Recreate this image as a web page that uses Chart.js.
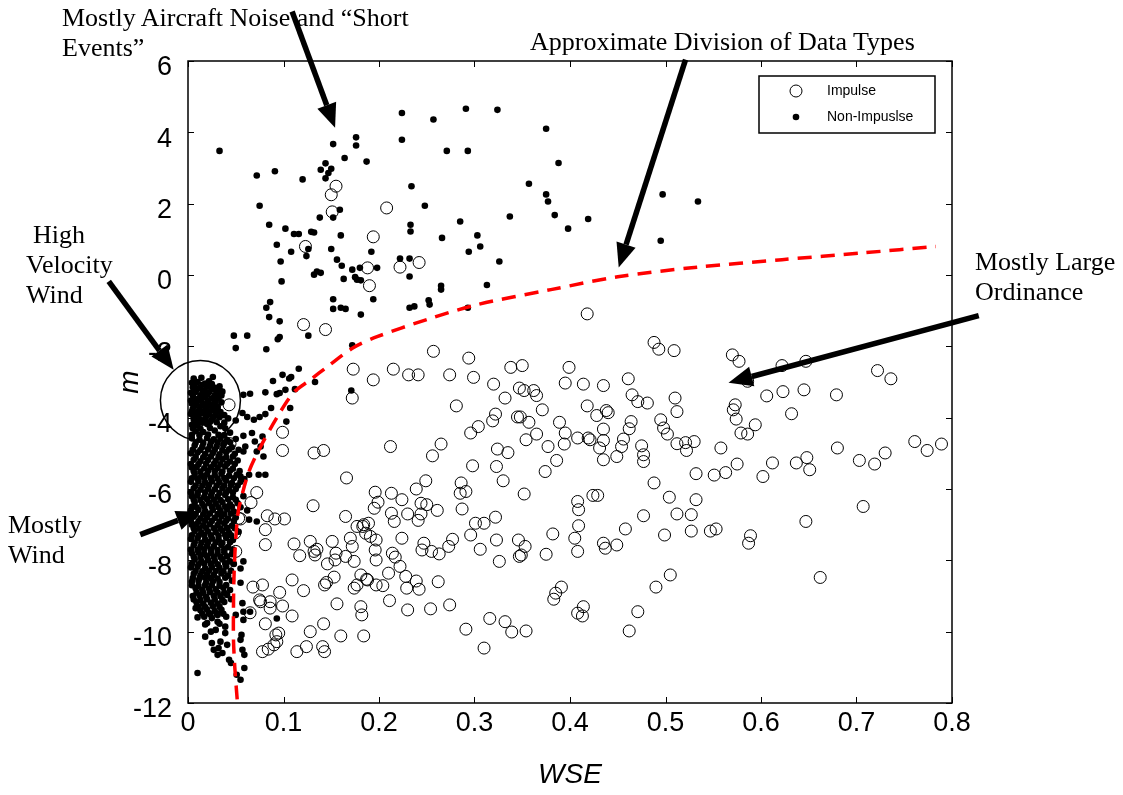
<!DOCTYPE html>
<html>
<head>
<meta charset="utf-8">
<title>WSE vs m</title>
<script src="https://cdn.jsdelivr.net/npm/chart.js@4.4.1/dist/chart.umd.min.js"></script>
<style>
  html, body { margin: 0; padding: 0; background: #fff; }
  #wrap { position: relative; width: 1123px; height: 795px; }
  #chart { position: absolute; left: 0; top: 0; }
  .note { position: absolute; font-family: "Liberation Serif", "Times New Roman", serif; font-size: 26px; line-height: 30px; color: #000; white-space: nowrap; }
</style>
</head>
<body>
<div id="wrap">
  <canvas id="chart" width="1123" height="795"></canvas>
  <div class="note" style="left:62px; top:3px;">Mostly Aircraft Noise and “Short<br>Events”</div>
  <div class="note" style="left:530px; top:27px;">Approximate Division of Data Types</div>
  <div class="note" style="left:33px; top:220px;">High</div>
  <div class="note" style="left:26px; top:250px;">Velocity</div>
  <div class="note" style="left:26px; top:280px;">Wind</div>
  <div class="note" style="left:975px; top:247px;">Mostly Large<br>Ordinance</div>
  <div class="note" style="left:8px; top:510px;">Mostly<br>Wind</div>
</div>
<script>
// axis ticks
const xTicks = [0, 0.1, 0.2, 0.3, 0.4, 0.5, 0.6, 0.7, 0.8];
const yTicks = [-12, -10, -8, -6, -4, -2, 0, 2, 4, 6];

// legend labels (as printed in the original)
const seriesNames = ["Impulse", "Non-Impuslse"];

// impulse events, [WSE, m]
const impulse = [
  [0.155,2.49],[0.150,2.25],[0.151,1.77],[0.208,1.88],[0.194,1.07],[0.123,0.80],[0.188,0.20],[0.222,0.22],[0.242,0.35],[0.190,-0.30],
  [0.418,-1.09],[0.121,-1.39],[0.144,-1.53],[0.173,-2.64],[0.172,-3.45],[0.043,-3.64],[0.044,-4.73],[0.099,-4.41],[0.099,-4.92],[0.132,-4.99],
  [0.142,-4.92],[0.166,-5.69],[0.072,-6.10],[0.053,-6.82],[0.049,-7.24],[0.037,-7.47],[0.050,-7.75],[0.039,-8.17],
  [0.066,-6.38],[0.083,-6.75],[0.091,-6.84],[0.101,-6.84],[0.081,-7.14],[0.081,-7.56],[0.055,-6.84],[0.131,-6.47],[0.165,-6.77],[0.195,-6.54],
  [0.111,-7.54],[0.117,-7.87],[0.128,-7.47],[0.132,-7.75],[0.135,-7.69],[0.133,-7.85],[0.151,-7.47],[0.155,-7.80],[0.154,-7.99],[0.165,-7.89],
  [0.170,-7.38],[0.172,-7.61],[0.174,-8.03],[0.177,-7.05],[0.183,-7.05],[0.189,-6.96],[0.186,-7.24],[0.191,-7.33],[0.196,-7.71],[0.146,-8.10],
  [0.109,-8.55],[0.096,-8.90],[0.121,-8.85],[0.068,-8.75],[0.078,-8.69],[0.076,-9.16],[0.086,-9.34],[0.099,-9.28],[0.109,-9.56],[0.081,-9.78],
  [0.092,-10.09],[0.093,-10.28],[0.078,-10.56],[0.084,-10.49],[0.114,-10.56],[0.124,-10.42],[0.128,-10.00],[0.142,-9.78],[0.141,-10.42],[0.143,-10.56],
  [0.156,-9.22],[0.160,-10.12],[0.177,-8.69],[0.174,-8.78],[0.181,-9.30],[0.184,-10.12],[0.182,-9.53],[0.145,-8.62],[0.143,-8.69],[0.153,-8.47],
  [0.181,-8.41],[0.188,-8.55],[0.197,-8.69],[0.075,-9.11],[0.065,-9.47],[0.090,-10.37],[0.095,-10.04],[0.086,-9.16],
  [0.213,-6.68],[0.216,-6.91],[0.230,-6.70],[0.241,-6.88],[0.244,-6.70],[0.250,-6.44],[0.261,-6.60],[0.287,-6.56],[0.184,-7.00],[0.197,-7.43],
  [0.224,-7.38],[0.247,-7.52],[0.245,-7.71],[0.255,-7.75],[0.263,-7.82],[0.273,-7.61],[0.277,-7.41],[0.197,-7.99],[0.214,-7.80],[0.217,-7.91],
  [0.222,-8.17],[0.210,-8.36],[0.228,-8.45],[0.187,-8.53],[0.204,-8.71],[0.229,-8.78],[0.239,-8.58],[0.242,-8.81],[0.262,-8.60],[0.211,-9.13],
  [0.230,-9.39],[0.254,-9.36],[0.274,-9.25],[0.296,-7.29],[0.301,-6.96],[0.310,-6.96],[0.322,-6.79],[0.306,-7.69],[0.323,-7.43],[0.326,-8.03],
  [0.346,-7.43],[0.353,-7.61],[0.347,-7.89],[0.349,-7.85],[0.375,-7.83],[0.382,-7.26],[0.405,-7.38],[0.408,-7.75],[0.409,-7.03],[0.409,-6.58],
  [0.408,-6.35],[0.435,-7.52],[0.437,-7.66],[0.449,-7.57],[0.458,-7.12],[0.477,-6.75],[0.499,-7.29],[0.512,-6.70],[0.505,-8.41],[0.490,-8.75],
  [0.471,-9.44],[0.462,-9.98],[0.391,-8.75],[0.385,-8.92],[0.383,-9.09],[0.414,-9.30],[0.408,-9.48],[0.413,-9.56],[0.316,-9.63],[0.332,-9.72],
  [0.339,-10.01],[0.354,-9.98],[0.291,-9.93],[0.310,-10.46],
  [0.194,-2.94],[0.215,-2.64],[0.231,-2.80],[0.241,-2.80],[0.257,-2.14],[0.274,-2.80],[0.294,-2.33],[0.299,-2.87],[0.281,-3.67],[0.320,-3.06],
  [0.338,-2.59],[0.350,-2.54],[0.332,-3.45],[0.347,-3.17],[0.352,-3.24],[0.362,-3.24],[0.365,-3.38],[0.371,-3.78],[0.322,-3.90],[0.319,-4.09],
  [0.345,-3.98],[0.348,-3.98],[0.357,-4.13],[0.304,-4.25],[0.296,-4.43],[0.354,-4.62],[0.365,-4.46],[0.395,-3.03],[0.399,-2.59],[0.414,-3.06],
  [0.435,-3.10],[0.418,-3.67],[0.428,-3.94],[0.438,-3.80],[0.440,-3.86],[0.389,-4.13],[0.395,-4.43],[0.394,-4.74],[0.377,-4.81],[0.408,-4.57],
  [0.419,-4.57],[0.421,-4.62],[0.435,-4.32],[0.435,-4.64],[0.431,-4.85],[0.435,-5.18],[0.386,-5.20],[0.374,-5.51],[0.461,-2.91],[0.465,-3.36],
  [0.471,-3.55],[0.481,-3.59],[0.488,-1.89],[0.493,-2.08],[0.509,-2.12],[0.464,-4.11],[0.462,-4.31],[0.456,-4.60],[0.454,-4.81],[0.449,-5.09],
  [0.475,-4.79],[0.477,-5.04],[0.477,-5.23],[0.488,-5.83],[0.495,-4.06],[0.498,-4.29],[0.502,-4.46],[0.512,-4.73],[0.510,-3.45],[0.512,-3.83],
  [0.212,-4.81],[0.265,-4.74],[0.256,-5.07],[0.298,-5.35],[0.323,-5.37],[0.324,-4.88],[0.335,-4.98],[0.330,-5.77],[0.352,-6.14],[0.286,-5.83],
  [0.285,-6.12],[0.291,-6.07],[0.249,-5.77],[0.239,-6.00],[0.244,-6.40],[0.196,-6.09],[0.213,-6.12],[0.224,-6.30],[0.199,-6.37],[0.424,-6.18],
  [0.429,-6.18],[0.504,-6.23],
  [0.570,-2.24],[0.577,-2.42],[0.586,-2.98],[0.622,-2.54],[0.647,-2.42],[0.722,-2.68],[0.736,-2.91],[0.606,-3.39],[0.623,-3.27],[0.645,-3.22],
  [0.679,-3.36],[0.632,-3.89],[0.573,-3.64],[0.571,-3.78],[0.574,-4.04],[0.594,-4.20],[0.579,-4.43],[0.586,-4.46],[0.521,-4.70],[0.530,-4.67],
  [0.522,-4.92],[0.558,-4.85],[0.575,-5.30],[0.563,-5.54],[0.551,-5.61],[0.532,-5.57],[0.612,-5.27],[0.602,-5.65],[0.637,-5.27],[0.648,-5.12],
  [0.651,-5.46],[0.680,-4.85],[0.703,-5.20],[0.719,-5.30],[0.730,-4.99],[0.761,-4.67],[0.774,-4.92],[0.789,-4.74],[0.532,-6.30],[0.527,-6.72],
  [0.707,-6.49],[0.647,-6.91],[0.527,-7.18],[0.547,-7.18],[0.553,-7.12],[0.589,-7.31],[0.587,-7.52],[0.662,-8.48]
];

// non-impulse events, [WSE, m]
const nonImpulse = [
  // upper scatter
  [0.033,3.48],[0.152,3.67],[0.176,3.86],[0.176,3.63],[0.224,4.54],[0.224,3.79],[0.257,4.36],[0.291,4.66],[0.271,3.48],[0.293,3.48],
  [0.164,3.28],[0.187,3.18],[0.072,2.79],[0.091,2.91],[0.120,2.68],[0.139,2.95],[0.144,3.13],[0.150,2.98],[0.147,2.86],[0.144,2.71],
  [0.234,2.49],[0.075,1.94],[0.159,1.83],[0.248,1.94],[0.138,1.61],[0.152,1.61],[0.085,1.41],[0.285,1.50],[0.102,1.30],[0.111,1.15],
  [0.116,1.15],[0.129,1.21],[0.132,1.19],[0.160,1.11],[0.233,1.41],[0.233,1.22],[0.266,1.04],[0.303,1.11],[0.306,0.80],[0.093,0.85],
  [0.108,0.65],[0.126,0.73],[0.124,0.53],[0.150,0.73],[0.192,0.65],[0.294,0.65],[0.097,0.38],[0.156,0.43],[0.161,0.26],[0.172,0.15],
  [0.180,0.20],[0.198,0.20],[0.222,0.46],[0.232,0.46],[0.232,-0.04],[0.132,0.01],[0.135,0.10],[0.139,0.06],[0.098,-0.18],[0.163,-0.11],
  [0.175,-0.06],[0.177,-0.13],[0.181,-0.15],[0.265,-0.30],[0.265,-0.41],[0.152,-0.68],[0.194,-0.68],[0.252,-0.71],[0.253,-0.83],[0.086,-0.76],
  [0.082,-0.92],[0.152,-0.95],[0.160,-0.92],[0.165,-0.95],[0.232,-0.92],[0.237,-0.88],[0.293,-0.92],[0.181,-1.11],[0.085,-1.18],
  [0.324,4.63],[0.375,4.10],[0.388,3.14],[0.357,2.56],[0.375,2.26],[0.377,2.06],[0.384,1.68],[0.337,1.64],[0.398,1.30],[0.419,1.57],
  [0.497,2.26],[0.534,2.06],[0.495,0.96],[0.326,0.38],[0.313,-0.28],
  // along the division line
  [0.096,-1.30],[0.126,-1.70],[0.096,-1.74],[0.094,-1.80],[0.048,-1.70],[0.062,-1.70],[0.050,-2.05],[0.082,-2.08],[0.172,-1.97],[0.116,-2.63],
  [0.108,-2.86],[0.106,-2.90],[0.099,-2.80],[0.089,-2.97],[0.133,-3.00],[0.171,-3.24],[0.112,-3.20],[0.102,-3.22],[0.096,-3.31],[0.093,-3.34],
  [0.081,-3.29],[0.065,-3.33],[0.058,-3.36],[0.107,-3.73],[0.087,-3.73],[0.081,-3.90],[0.075,-3.98],[0.069,-4.06],[0.062,-3.98],[0.057,-3.87],
  [0.103,-4.11],[0.078,-4.53],[0.067,-4.43],[0.058,-4.51],[0.070,-4.67],[0.076,-4.81],[0.060,-4.81],[0.058,-4.95],[0.072,-4.95],[0.079,-5.09],
  [0.064,-5.60],[0.074,-5.60],[0.081,-5.60],[0.055,-5.65],[0.059,-5.72],[0.072,-6.91],[0.064,-6.86],[0.058,-8.03],[0.055,-8.63],
  // lower tail
  [0.010,-11.16],[0.055,-11.35],[0.051,-11.21],[0.059,-11.02],[0.045,-10.88],[0.043,-10.79],[0.031,-10.65],[0.036,-10.60],[0.041,-10.37],[0.057,-10.51],
  [0.059,-10.65],[0.055,-10.23],[0.056,-10.09],[0.032,-10.46],[0.027,-10.51],[0.025,-10.32],[0.034,-10.28],[0.018,-10.14],[0.024,-10.00],[0.029,-9.95],
  [0.039,-10.04],[0.020,-9.76],[0.031,-9.72],[0.039,-9.86],[0.017,-9.58],[0.008,-9.34],[0.022,-9.48],[0.031,-9.53],[0.058,-9.67],[0.050,-9.53],
  [0.057,-9.20],[0.058,-9.44],[0.065,-9.44],[0.093,-9.63],
  // high velocity wind cluster
  [0.006,-2.90],[0.014,-2.88],[0.026,-2.86],[0.004,-3.02],[0.010,-3.00],[0.018,-3.04],[0.022,-2.98],
  [0.007,-3.07],[0.015,-3.08],[0.025,-3.06],
  [0.005,-3.15],[0.012,-3.17],[0.020,-3.13],[0.028,-3.16],[0.033,-3.12],
  [0.009,-3.22],[0.017,-3.23],[0.025,-3.21],[0.033,-3.22],
  [0.003,-3.30],[0.008,-3.28],[0.015,-3.32],[0.022,-3.29],[0.030,-3.31],[0.036,-3.27],
  [0.005,-3.37],[0.013,-3.38],[0.020,-3.36],[0.028,-3.37],[0.035,-3.38],
  [0.006,-3.45],[0.011,-3.47],[0.018,-3.43],[0.025,-3.46],[0.032,-3.44],
  [0.003,-3.52],[0.009,-3.53],[0.014,-3.51],[0.021,-3.52],[0.029,-3.53],
  [0.004,-3.60],[0.009,-3.58],[0.016,-3.62],[0.021,-3.59],[0.027,-3.61],[0.035,-3.57],
  [0.007,-3.67],[0.013,-3.68],[0.019,-3.66],[0.024,-3.67],[0.031,-3.68],
  [0.005,-3.75],[0.012,-3.77],[0.019,-3.73],[0.026,-3.76],[0.031,-3.74],
  [0.004,-3.83],[0.010,-3.84],[0.017,-3.82],[0.023,-3.83],[0.034,-3.84],
  [0.003,-3.90],[0.008,-3.92],[0.014,-3.88],[0.022,-3.91],[0.029,-3.89],[0.038,-3.93],
  [0.006,-3.98],[0.011,-3.99],[0.019,-3.97],[0.027,-3.98],[0.033,-3.99],
  [0.006,-4.05],[0.013,-4.07],[0.018,-4.03],[0.025,-4.06],[0.042,-4.02],[0.050,-4.08],
  [0.008,-4.13],[0.015,-4.14],[0.023,-4.12],[0.030,-4.13],[0.038,-4.14],
  [0.004,-4.20],[0.010,-4.22],[0.020,-4.18],[0.034,-4.24],
  [0.005,-4.30],[0.013,-4.31],[0.023,-4.29],[0.039,-4.30],
  [0.008,-4.38],[0.016,-4.40],[0.028,-4.36],[0.044,-4.42],
  [0.004,-4.48],[0.012,-4.49],[0.021,-4.47],[0.032,-4.48],[0.038,-4.49],
  // mostly wind
  [0.004,-4.58],[0.012,-4.62],[0.020,-4.57],[0.027,-4.61],[0.034,-4.59],[0.041,-4.63],[0.050,-4.60],
  [0.008,-4.70],[0.016,-4.71],[0.024,-4.69],[0.031,-4.70],[0.038,-4.71],[0.044,-4.69],
  [0.007,-4.78],[0.015,-4.82],[0.023,-4.79],[0.030,-4.81],[0.037,-4.77],[0.046,-4.83],
  [0.005,-4.90],[0.013,-4.91],[0.021,-4.89],[0.028,-4.90],[0.036,-4.91],[0.043,-4.89],[0.053,-4.90],
  [0.003,-5.00],[0.010,-4.98],[0.018,-5.02],[0.026,-4.99],[0.033,-5.03],[0.040,-4.97],[0.049,-5.01],
  [0.008,-5.10],[0.016,-5.11],[0.024,-5.09],[0.032,-5.10],[0.040,-5.11],[0.047,-5.09],
  [0.006,-5.18],[0.013,-5.22],[0.021,-5.19],[0.029,-5.21],[0.036,-5.17],[0.044,-5.23],[0.052,-5.20],
  [0.003,-5.30],[0.011,-5.31],[0.019,-5.29],[0.027,-5.30],[0.034,-5.31],[0.041,-5.29],[0.049,-5.30],
  [0.004,-5.40],[0.009,-5.38],[0.017,-5.42],[0.024,-5.39],[0.031,-5.41],[0.039,-5.37],[0.047,-5.43],
  [0.006,-5.50],[0.013,-5.51],[0.021,-5.49],[0.028,-5.50],[0.036,-5.51],[0.044,-5.49],[0.054,-5.50],
  [0.007,-5.58],[0.014,-5.62],[0.020,-5.59],[0.028,-5.61],[0.035,-5.57],[0.043,-5.63],[0.051,-5.60],
  [0.004,-5.70],[0.010,-5.71],[0.017,-5.69],[0.024,-5.70],[0.031,-5.71],[0.038,-5.69],[0.048,-5.70],
  [0.003,-5.80],[0.011,-5.78],[0.018,-5.82],[0.025,-5.79],[0.033,-5.81],[0.040,-5.77],[0.046,-5.83],[0.055,-5.80],
  [0.008,-5.90],[0.015,-5.91],[0.022,-5.89],[0.030,-5.90],[0.038,-5.91],[0.045,-5.89],[0.052,-5.90],
  [0.006,-5.98],[0.013,-6.02],[0.021,-5.99],[0.028,-6.01],[0.036,-5.97],[0.043,-6.03],[0.050,-6.00],
  [0.003,-6.10],[0.010,-6.11],[0.018,-6.09],[0.025,-6.10],[0.033,-6.11],[0.040,-6.09],[0.047,-6.10],
  [0.004,-6.20],[0.010,-6.18],[0.017,-6.22],[0.024,-6.19],[0.031,-6.21],[0.039,-6.17],[0.047,-6.23],[0.058,-6.20],
  [0.006,-6.30],[0.013,-6.31],[0.020,-6.29],[0.027,-6.30],[0.034,-6.31],[0.042,-6.29],[0.050,-6.30],
  [0.007,-6.38],[0.015,-6.42],[0.022,-6.39],[0.029,-6.41],[0.036,-6.37],[0.044,-6.43],[0.052,-6.40],
  [0.004,-6.50],[0.009,-6.51],[0.017,-6.49],[0.025,-6.50],[0.032,-6.51],[0.039,-6.49],[0.046,-6.50],[0.055,-6.51],
  [0.003,-6.60],[0.011,-6.58],[0.018,-6.62],[0.026,-6.59],[0.034,-6.61],[0.041,-6.57],[0.048,-6.63],[0.062,-6.60],
  [0.008,-6.70],[0.016,-6.71],[0.023,-6.69],[0.031,-6.70],[0.038,-6.71],[0.045,-6.69],
  [0.006,-6.78],[0.013,-6.82],[0.020,-6.79],[0.028,-6.81],[0.035,-6.77],[0.042,-6.83],[0.050,-6.80],
  [0.003,-6.90],[0.011,-6.91],[0.018,-6.89],[0.025,-6.90],[0.033,-6.91],[0.040,-6.89],[0.048,-6.90],
  [0.004,-7.00],[0.009,-6.98],[0.016,-7.02],[0.023,-6.99],[0.031,-7.01],[0.038,-6.97],[0.046,-7.03],
  [0.006,-7.10],[0.012,-7.11],[0.019,-7.09],[0.027,-7.10],[0.034,-7.11],[0.041,-7.09],[0.049,-7.10],
  [0.007,-7.18],[0.014,-7.22],[0.021,-7.19],[0.029,-7.21],[0.036,-7.17],[0.043,-7.23],[0.053,-7.20],
  [0.004,-7.30],[0.011,-7.31],[0.017,-7.29],[0.024,-7.30],[0.032,-7.31],[0.039,-7.29],[0.045,-7.30],
  [0.003,-7.40],[0.010,-7.38],[0.018,-7.42],[0.025,-7.39],[0.032,-7.41],[0.040,-7.37],[0.047,-7.43],
  [0.007,-7.50],[0.014,-7.51],[0.021,-7.49],[0.029,-7.50],[0.036,-7.51],[0.044,-7.49],
  [0.006,-7.58],[0.013,-7.62],[0.020,-7.59],[0.027,-7.61],[0.035,-7.57],[0.042,-7.63],
  [0.003,-7.70],[0.010,-7.71],[0.017,-7.69],[0.024,-7.70],[0.031,-7.71],[0.038,-7.69],[0.047,-7.70],
  [0.004,-7.80],[0.011,-7.78],[0.017,-7.82],[0.024,-7.79],[0.031,-7.81],[0.038,-7.77],[0.046,-7.83],
  [0.006,-7.90],[0.013,-7.91],[0.020,-7.89],[0.027,-7.90],[0.034,-7.91],[0.041,-7.89],
  [0.007,-7.98],[0.014,-8.02],[0.021,-7.99],[0.028,-8.01],[0.036,-7.97],[0.044,-8.03],
  [0.004,-8.10],[0.011,-8.11],[0.017,-8.09],[0.024,-8.10],[0.031,-8.11],[0.039,-8.09],[0.048,-8.10],
  [0.003,-8.20],[0.010,-8.18],[0.018,-8.22],[0.025,-8.19],[0.033,-8.21],[0.040,-8.17],[0.055,-8.23],
  [0.008,-8.30],[0.015,-8.31],[0.022,-8.29],[0.029,-8.30],[0.037,-8.31],[0.045,-8.29],
  [0.006,-8.38],[0.013,-8.42],[0.020,-8.39],[0.027,-8.41],[0.035,-8.37],[0.042,-8.43],
  [0.005,-8.50],[0.012,-8.51],[0.018,-8.49],[0.024,-8.50],[0.031,-8.51],[0.039,-8.49],
  [0.004,-8.60],[0.011,-8.58],[0.019,-8.62],[0.026,-8.59],[0.033,-8.61],[0.046,-8.57],
  [0.004,-8.70],[0.011,-8.71],[0.018,-8.69],[0.025,-8.70],[0.033,-8.71],[0.040,-8.69],
  [0.008,-8.78],[0.015,-8.82],[0.022,-8.79],[0.029,-8.81],[0.037,-8.77],[0.044,-8.83],
  [0.009,-8.90],[0.016,-8.91],[0.023,-8.89],[0.031,-8.90],[0.038,-8.91],
  [0.005,-9.00],[0.012,-8.98],[0.019,-9.02],[0.027,-8.99],[0.034,-9.01],[0.041,-8.97],
  [0.006,-9.10],[0.013,-9.11],[0.020,-9.09],[0.028,-9.10],[0.036,-9.11],[0.045,-9.09],
  [0.009,-9.18],[0.016,-9.22],[0.024,-9.19],[0.031,-9.21],[0.038,-9.17],
  [0.011,-9.30],[0.018,-9.31],[0.026,-9.29],[0.033,-9.30],
  [0.013,-9.40],[0.020,-9.38],[0.028,-9.42],[0.035,-9.39],
  [0.015,-9.50],[0.023,-9.51],[0.030,-9.49],[0.037,-9.50],
  [0.010,-9.60],[0.025,-9.62],[0.040,-9.58],[0.018,-9.80],[0.033,-9.78]
];

// approximate division of data types
const divisionCurve = [
  [0.0515,-11.9],[0.0490,-11.0],[0.0476,-10.2],[0.0476,-9.4],[0.0480,-8.6],[0.0495,-7.6],[0.0518,-6.8],[0.0535,-6.5],
  [0.0634,-5.54],[0.0759,-4.82],[0.0937,-3.97],[0.1105,-3.30],[0.128,-2.94],[0.146,-2.57],[0.173,-2.04],[0.198,-1.73],
  [0.250,-1.25],[0.303,-0.83],[0.380,-0.41],[0.450,-0.05],[0.533,0.22],[0.622,0.43],[0.707,0.62],[0.783,0.80]
];

// annotation arrows, [tailX, tailY, tipX, tipY] in data units
const arrows = [
  [0.109, 7.39, 0.154, 4.13],
  [0.521, 6.04, 0.451, 0.21],
  [-0.083, -0.18, -0.015, -2.66],
  [0.828, -1.14, 0.566, -3.02],
  [-0.050, -7.28, 0.013, -6.64]
];
// ring round the high velocity wind cluster
const ring = [0.013, -3.52];

const toXY = pts => pts.map(p => ({ x: p[0], y: p[1] }));

function drawArrow(ctx, x1, y1, x2, y2) {
    const ang = Math.atan2(y2 - y1, x2 - x1);
    const head = 24, half = 10;
    const bx = x2 - head * Math.cos(ang), by = y2 - head * Math.sin(ang);
    ctx.beginPath();
    ctx.moveTo(x1, y1);
    ctx.lineTo(bx, by);
    ctx.lineWidth = 5.5;
    ctx.stroke();
    ctx.beginPath();
    ctx.moveTo(x2, y2);
    ctx.lineTo(bx + half * Math.sin(ang), by - half * Math.cos(ang));
    ctx.lineTo(bx - half * Math.sin(ang), by + half * Math.cos(ang));
    ctx.closePath();
    ctx.fill();
}

const framePlugin = {
    id: 'frame',
    afterDraw(chart) {
        const ctx = chart.ctx;
        const a = chart.chartArea;
        const sx = chart.scales.x, sy = chart.scales.y;
        ctx.save();
        ctx.strokeStyle = '#000';
        ctx.fillStyle = '#000';
        ctx.lineWidth = 1.5;
        ctx.strokeRect(a.left, a.top, a.right - a.left, a.bottom - a.top);
        ctx.lineWidth = 1;
        ctx.beginPath();
        xTicks.forEach(v => {
            const px = Math.round(sx.getPixelForValue(v)) + 0.5;
            ctx.moveTo(px, a.bottom); ctx.lineTo(px, a.bottom - 6);
            ctx.moveTo(px, a.top); ctx.lineTo(px, a.top + 6);
        });
        yTicks.forEach(v => {
            const py = Math.round(sy.getPixelForValue(v)) + 0.5;
            ctx.moveTo(a.left, py); ctx.lineTo(a.left + 6, py);
            ctx.moveTo(a.right, py); ctx.lineTo(a.right - 6, py);
        });
        ctx.stroke();

        // legend
        ctx.lineWidth = 1.5;
        ctx.strokeRect(759, 76, 176, 57);
        ctx.lineWidth = 1;
        ctx.beginPath();
        ctx.arc(796, 91, 6, 0, Math.PI * 2);
        ctx.stroke();
        ctx.beginPath();
        ctx.arc(796, 117, 3.3, 0, Math.PI * 2);
        ctx.fill();
        ctx.font = '14px "Liberation Sans", Arial, sans-serif';
        ctx.textBaseline = 'middle';
        ctx.fillText(seriesNames[0], 827, 91);
        ctx.fillText(seriesNames[1], 827, 117);

        // ring and arrows
        ctx.lineWidth = 1.5;
        ctx.beginPath();
        ctx.arc(sx.getPixelForValue(ring[0]), sy.getPixelForValue(ring[1]), 40, 0, Math.PI * 2);
        ctx.stroke();
        arrows.forEach(r => drawArrow(ctx,
            sx.getPixelForValue(r[0]), sy.getPixelForValue(r[1]),
            sx.getPixelForValue(r[2]), sy.getPixelForValue(r[3])));
        ctx.restore();
    }
};

const tickFont = { family: '"Liberation Sans", Arial, sans-serif', size: 27 };
const titleFont = { family: '"Liberation Sans", Arial, sans-serif', size: 28, style: 'italic' };

new Chart(document.getElementById('chart'), {
    type: 'scatter',
    data: {
        datasets: [{
            label: 'Division',
            data: toXY(divisionCurve),
            showLine: true,
            borderColor: '#ff0000',
            borderWidth: 3.5,
            borderDash: [14, 9],
            pointRadius: 0,
            tension: 0.3,
            clip: false
        }, {
            label: seriesNames[0],
            data: toXY(impulse),
            pointRadius: 6,
            pointBorderWidth: 1,
            borderColor: '#000',
            backgroundColor: 'rgba(0,0,0,0)',
            clip: false
        }, {
            label: seriesNames[1],
            data: toXY(nonImpulse),
            pointRadius: 3.3,
            pointBorderWidth: 0,
            borderColor: '#000',
            backgroundColor: '#000',
            clip: false
        }]
    },
    options: {
        responsive: false,
        animation: false,
        events: [],
        layout: { padding: { left: 0, top: 61, right: 171, bottom: 0 } },
        plugins: { legend: { display: false }, tooltip: { enabled: false } },
        scales: {
            x: {
                type: 'linear', min: 0, max: 0.8,
                grid: { display: false, drawTicks: false },
                border: { display: false },
                afterBuildTicks: s => { s.ticks = xTicks.map(v => ({ value: v })); },
                afterFit: s => { s.height = 92; },
                ticks: { color: '#000', font: tickFont, padding: 4, maxRotation: 0, callback: v => String(+v.toFixed(1)) },
                title: { display: true, text: 'WSE', color: '#000', font: titleFont, padding: { top: 0, bottom: 3 } }
            },
            y: {
                type: 'linear', min: -12, max: 6,
                grid: { display: false, drawTicks: false },
                border: { display: false },
                afterBuildTicks: s => { s.ticks = yTicks.map(v => ({ value: v })); },
                afterFit: s => { s.width = 188; },
                ticks: { color: '#000', font: tickFont, padding: 16, labelOffset: 7, callback: v => String(v) },
                title: { display: true, text: 'm', color: '#000', font: titleFont, padding: { top: 113, bottom: 0 } }
            }
        }
    },
    plugins: [framePlugin]
});
</script>
</body>
</html>
